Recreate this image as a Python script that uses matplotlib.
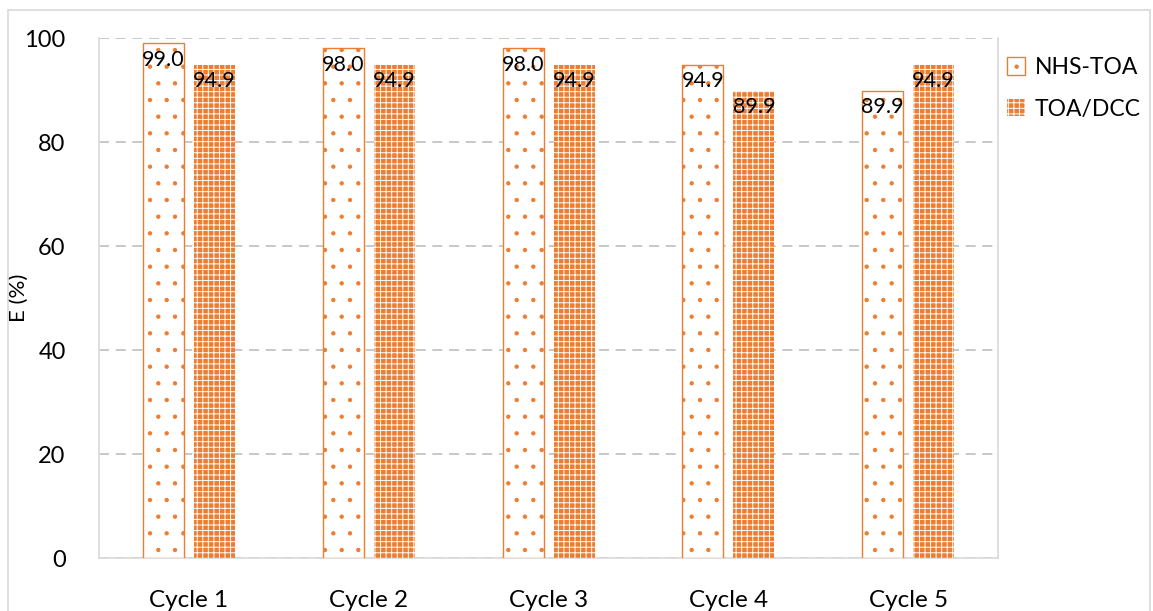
import numpy as np
import matplotlib.pyplot as plt
from matplotlib.patches import Rectangle

plt.rcParams['font.family'] = ['Lato', 'DejaVu Sans']
plt.rcParams['hatch.linewidth'] = 0.7

cycles = ["Cycle 1", "Cycle 2", "Cycle 3", "Cycle 4", "Cycle 5"]
nhs_toa = [99.0, 98.0, 98.0, 94.9, 89.9]
toa_dcc = [94.9, 94.9, 94.9, 89.9, 94.9]

orange = "#ED7D31"
grey = "#D9D9D9"

fig = plt.figure(figsize=(11.53, 6.11), dpi=100)
fig.patches.append(Rectangle((0.007, -0.1), 0.99, 1.084, transform=fig.transFigure,
                             fill=False, edgecolor=grey, linewidth=1.2))
ax = fig.add_axes([0.0859, 0.0867, 0.7797, 0.8511])

x = np.arange(len(cycles))
w = 0.228
off = (w + 0.056) / 2

b1 = ax.bar(x - off, nhs_toa, w, facecolor="white", edgecolor=orange,
            linewidth=1.0, hatch=".", label="NHS-TOA", zorder=3)
b2 = ax.bar(x + off, toa_dcc, w, facecolor=orange, edgecolor="white",
            linewidth=0, hatch="+++", label="TOA/DCC", zorder=3)

for bars, vals in ((b1, nhs_toa), (b2, toa_dcc)):
    for r, v in zip(bars, vals):
        ax.annotate(f"{v:.1f}", (r.get_x() + r.get_width() / 2, v),
                    xytext=(0, -5), textcoords="offset points",
                    ha="center", va="top", fontsize=15.5, zorder=5)

ax.set_xlim(-0.5, 4.5)
ax.set_ylim(0, 100)
ax.set_yticks([0, 20, 40, 60, 80, 100])
ax.set_xticks(x)
ax.set_xticklabels(cycles)
ax.tick_params(axis="y", length=0, pad=24, labelsize=17)
ax.tick_params(axis="x", length=0, pad=23, labelsize=17.5)
ax.set_ylabel("E (%)", fontsize=16)
ax.yaxis.set_label_coords(-0.078, 0.5)

ax.grid(axis="y", color="#BFBFBF", linestyle=(0, (6, 4)), linewidth=1.2, zorder=0)
for s in ("left", "right", "bottom"):
    ax.spines[s].set_color(grey)
    ax.spines[s].set_linewidth(1.2)
ax.spines["top"].set_visible(False)

ax.legend(loc="upper left", bbox_to_anchor=(0.987, 1.003), frameon=False,
          fontsize=16.5, handlelength=0.8, handleheight=0.8, handletextpad=0.4,
          labelspacing=0.9)

fig.savefig("out.png", dpi=100)
